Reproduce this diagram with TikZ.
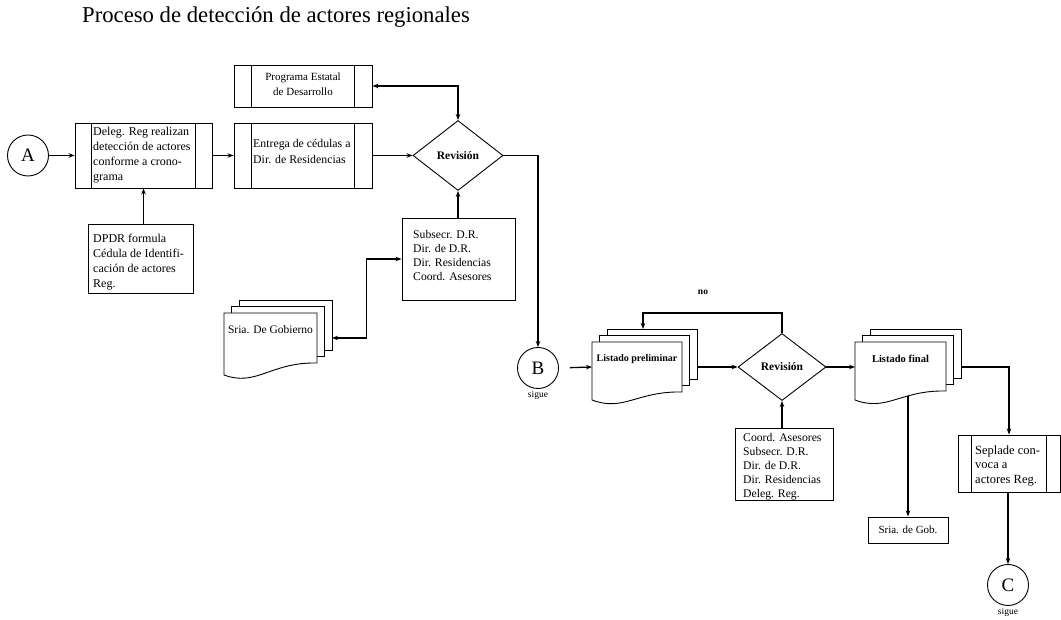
\documentclass[tikz,border=0pt]{standalone}
\usepackage{fontspec}
\setmainfont{Liberation Serif}
\usetikzlibrary{arrows.meta,shapes.geometric,calc}

\tikzset{
  box/.style={draw, line width=0.9pt, fill=white, inner sep=0pt},
  docline/.style={draw, line width=0.9pt, fill=white},
  lbl/.style={font=\fontsize{12}{15}\selectfont, align=left, inner sep=0pt},
  lblsm/.style={font=\fontsize{11.7}{14}\selectfont, align=left, inner sep=0pt},
  doctext/.style={font=\fontsize{11.5}{13}\selectfont, inner sep=0pt},
  decision/.style={diamond, draw, line width=0.9pt, fill=white, inner sep=0pt,
    minimum width=90pt, minimum height=70pt, aspect=1.28,
    font=\fontsize{11.5}{12}\selectfont\bfseries},
  connector/.style={draw, circle, line width=0.9pt, minimum size=41pt, inner sep=0pt,
    font=\fontsize{19}{19}\selectfont},
  small/.style={font=\fontsize{9.5}{11}\selectfont, inner sep=0pt},
  conn/.style={line width=1.3pt, -{Stealth[length=6pt,width=4.5pt]}},
  conn2/.style={line width=1.3pt, {Stealth[length=6pt,width=4.5pt]}-{Stealth[length=6pt,width=4.5pt]}},
}

% inner bars of a predefined-process box
\newcommand\pbars[2]{%
  \draw[line width=0.9pt] ($(#1.north west)+(#2,0)$) -- ($(#1.south west)+(#2,0)$);
  \draw[line width=0.9pt] ($(#1.north east)-(#2,0)$) -- ($(#1.south east)-(#2,0)$);
}

% stack of three documents: name, x, y (front top-left), width, left height, right height, text
\newcommand\docstack[7]{%
  \draw[docline] ({#2+15},{#3-13}) rectangle ({#2+#4+15},{#3+#6-13});
  \draw[docline] ({#2+7},{#3-6.5}) rectangle ({#2+#4+7},{#3+#6-6.5});
  \draw[docline] (#2,#3) -- ({#2+#4},#3) -- ({#2+#4},{#3+#6})
     .. controls ({#2+0.5*#4},{#3+#6-1}) and ({#2+0.35*#4},{#3+#5+12}) .. (#2,{#3+#5})
     coordinate[pos=0.35] (#1-b) -- cycle;
  \node[doctext] (#1) at ({#2+#4/2},{#3+17}) {#7};
  \coordinate (#1-in) at (#2,{#3+25});
  \coordinate (#1-out) at ({#2+#4+15},{#3+25});
  \coordinate (#1-top) at ({#2+51},{#3-13});
}

\begin{document}
\begin{tikzpicture}[x=1pt, y=-1pt]
  \useasboundingbox (0,0) rectangle (1061,620);

  % title
  \node[anchor=base west, inner sep=0pt, font=\fontsize{22.7}{26}\selectfont] (title) at (82,23)
    {Proceso de detección de actores regionales};

  % upper part
  \node[connector] (A) at (28,155.5) {A};

  \node[box, minimum width=137pt, minimum height=65pt] (b1) at (143.5,155.5) {};
  \pbars{b1}{17}
  \node[lbl, anchor=west] (b1t) at (93,155.5)
    {Deleg. Reg realizan\\detección de actores\\conforme a crono-\\grama};

  \node[box, minimum width=105pt, minimum height=69pt] (dpdr) at (140.5,258.5) {};
  \node[lbl, anchor=west] (dpdrt) at (93,262.5)
    {DPDR formula\\Cédula de Identifi-\\cación de actores\\Reg.};

  \node[box, minimum width=138pt, minimum height=42pt] (prog) at (303,86) {};
  \pbars{prog}{18}
  \node[lbl, align=center, font=\fontsize{11}{15}\selectfont] (progt) at (303,84)
    {Programa Estatal\\de Desarrollo};

  \node[box, minimum width=138pt, minimum height=65pt] (ent) at (303,155.5) {};
  \pbars{ent}{18}
  \node[lbl, anchor=west, font=\fontsize{11.8}{16}\selectfont] (entt) at (253,151)
    {Entrega de cédulas a\\Dir. de Residencias};

  \node[decision] (rev1) at (458,155.5) {Revisión};

  \node[box, minimum width=113pt, minimum height=82pt] (sub) at (458.5,259) {};
  \node[lblsm, anchor=west] (subt) at (413,256)
    {Subsecr. D.R.\\Dir. de D.R.\\Dir. Residencias\\Coord. Asesores};

  \docstack{sria}{224}{313}{93}{62}{50}{Sria. De Gobierno}

  % lower part
  \node[connector] (B) at (538,368) {B};
  \node[small] (Bs) at (538,395) {sigue};

  \docstack{lp}{592}{342}{90}{58}{50}{\fontsize{10}{12}\selectfont\bfseries Listado preliminar}

  \node[decision, minimum width=88pt, minimum height=67pt] (rev2) at (782,367) {Revisión};
  \node[small, font=\fontsize{9.5}{11}\selectfont\bfseries] (no) at (703,292) {no};

  \node[box, minimum width=98pt, minimum height=72pt] (coord) at (784,464) {};
  \node[lblsm, anchor=west] (coordt) at (743,467)
    {Coord. Asesores\\Subsecr. D.R.\\Dir. de D.R.\\Dir. Residencias\\Deleg. Reg.};

  \docstack{lf}{855}{342}{91}{58}{49}{\fontsize{10.5}{12}\selectfont\bfseries Listado final}

  \node[box, minimum width=80pt, minimum height=26pt, font=\fontsize{11}{12}\selectfont] (sgob)
    at (908,530) {Sria. de Gob.};

  \node[box, minimum width=102pt, minimum height=57pt] (sep) at (1009,463.5) {};
  \pbars{sep}{14}
  \node[lbl, anchor=west, font=\fontsize{12.5}{14.5}\selectfont] (sept) at (975,466)
    {Seplade con-\\voca a\\actores Reg.};

  \node[connector] (C) at (1008,585) {C};
  \node[small] (Cs) at (1008,612) {sigue};

  % connectors
  \draw[conn] (A.east) -- (b1.west);
  \draw[conn] (dpdr.north -| b1.south) -- (b1.south);
  \draw[conn] (b1.east) -- (ent.west);
  \draw[conn] (ent.east) -- (rev1.west);
  \draw[conn2] (rev1.north) |- (prog.east);
  \draw[conn] (sub.north -| rev1.south) -- (rev1.south);
  \draw[conn2] (sub.west) -- ++(-35,0) |- (sria-out);
  \draw[conn] (rev1.east) -| (B.north);
  \draw[conn, shorten <=11pt] (B.east) -- (lp-in);
  \draw[conn] (lp-out) -- (rev2.west);
  \draw[conn] (rev2.north) -- ++(0,-20) -| (lp-top);
  \draw[conn] (rev2.east) -- (lf-in);
  \draw[conn] (coord.north -| rev2.south) -- (rev2.south);
  \draw[conn] (lf-out) -| (sep.north);
  \draw[conn] (sgob.north |- lf-b) -- (sgob.north);
  \draw[conn] (sep.south -| C.north) -- (C.north);
\end{tikzpicture}
\end{document}
